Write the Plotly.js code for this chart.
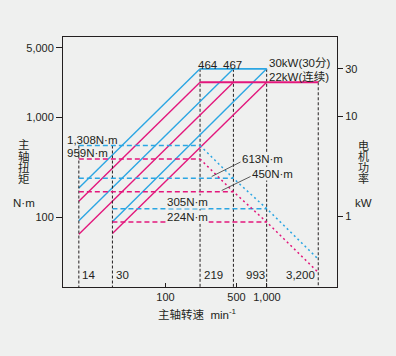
<!DOCTYPE html>
<html>
<head>
<meta charset="utf-8">
<script src="https://cdn.plot.ly/plotly-3.0.1.min.js"></script>
<style>html,body{margin:0;padding:0;background:#eff0ef;}#chart{width:396px;height:356px;}</style>
</head>
<body>
<div id="chart"></div>
<script>
// ---- Data ----
// Power (kW, right axis) vs spindle speed (min^-1) for the three gear ranges
const lowSpeed = [14, 219];
const low30Power = [1.92, 30];
const lowContPower = [1.41, 22];
const midSpeed = [14, 467];
const mid30Power = [0.90, 30];
const midContPower = [0.66, 22];
const highSpeed = [30, 993];
const high30Power = [0.88, 30];
const highContPower = [0.67, 22];
// Constant-power ceilings
const rated30Speed = [219, 993];
const rated30Power = [30, 30];
const ratedContSpeed = [219, 3200];
const ratedContPower = [22, 22];
// Torque plateaus (N·m)
const torqueStart = [14, 14, 30];
const torqueEnd = [219, 467, 993];
const torque30 = [1308, 613, 305];
const torqueCont = [959, 450, 224];
// Torque in constant-power range
const fallSpeed = [219, 467, 993, 3200];
const fall30Torque = [1308, 613, 305, 95];
const fallContTorque = [959, 450, 224, 70];
// Reference speed lines
const vTorqueSpeeds = [14, 30];
const vTorqueTop = [1308, 1308];
const vPowerSpeeds = [219, 467, 993, 3200];
const vPowerTop = [30, 30, 30, 22];
// Tick labels
const xTickVals = [100, 500, 1000];
const xTickText = ['100', '500', '1,000'];
const yTickVals = [100, 1000, 5000];
const yTickText = ['100', '1,000', '5,000'];
const y2TickVals = [1, 10, 30];
const y2TickText = ['1', '10', '30'];

const BLUE = '#2ba6e3';
const PINK = '#e3177c';
const INK = '#231f20';
const BG = '#eff0ef';

const traces = [];
// invisible anchor trace so the left torque axis (main subplot) is drawn
traces.push({x: xTickVals, y: yTickVals, yaxis: 'y', type: 'scatter', mode: 'markers',
  marker: {opacity: 0, size: 1}, hoverinfo: 'skip', showlegend: false});
function line(x, y, axis, color, width, dash) {
  traces.push({x: x, y: y, yaxis: axis, type: 'scatter', mode: 'lines',
    line: {color: color, width: width, dash: dash || 'solid'},
    hoverinfo: 'skip', showlegend: false});
}
// vertical reference lines
vTorqueSpeeds.forEach((s, i) => line([s, s], [vTorqueTop[i], 1], 'y3', INK, 1, '3px,2px'));
vPowerSpeeds.forEach((s, i) => line([s, s], [vPowerTop[i], 0.01], 'y2', INK, 1, '3px,2px'));
// torque dashed lines
torque30.forEach((t, i) => line([torqueStart[i], torqueEnd[i]], [t, t], 'y3', BLUE, 1.5, '5px,3px'));
torqueCont.forEach((t, i) => line([torqueStart[i], torqueEnd[i]], [t, t], 'y3', PINK, 1.5, '5px,3px'));
// constant power torque (dotted)
line(fallSpeed, fall30Torque, 'y3', BLUE, 1.5, '2px,3px');
line(fallSpeed, fallContTorque, 'y3', PINK, 1.5, '2px,3px');
// power lines
line(lowSpeed, low30Power, 'y2', BLUE, 1.4);
line(midSpeed, mid30Power, 'y2', BLUE, 1.4);
line(highSpeed, high30Power, 'y2', BLUE, 1.4);
line(lowSpeed, lowContPower, 'y2', PINK, 1.4);
line(midSpeed, midContPower, 'y2', PINK, 1.4);
line(highSpeed, highContPower, 'y2', PINK, 1.4);
line(rated30Speed, rated30Power, 'y2', BLUE, 1.8);
line(ratedContSpeed, ratedContPower, 'y2', PINK, 1.8);

// paper-coordinate helpers (plot area: x 63..337, y 37..287)
const PX = x => (x - 63) / 274;
const PY = y => (287 - y) / 250;
const FONT = 'Liberation Sans, Arial, sans-serif';
const CJK = 'Liberation Sans, Noto Sans CJK SC, sans-serif';
const anns = [];
function label(text, x, y, anchor, opts) {
  anns.push(Object.assign({text: text, xref: 'paper', yref: 'paper', x: PX(x), y: PY(y),
    xanchor: anchor || 'left', yanchor: 'middle', showarrow: false, borderpad: 0,
    font: {family: CJK, size: 11.5, color: INK}}, opts || {}));
}
label('464', 197, 64.5);
label('467', 232.5, 64.5, 'center');
label('30kW(30分)', 267.5, 62.7);
label('22kW(连续)', 267.5, 76.2);
label('1,308N·m', 66, 140);
label('959N·m', 65.5, 153.3);
label('613N·m', 241, 159, 'left', {bgcolor: BG});
label('450N·m', 251, 173.5, 'left', {bgcolor: BG});
label('305N·m', 165.5, 202.3, 'left', {bgcolor: BG});
label('224N·m', 165.5, 217.3, 'left', {bgcolor: BG});
label('14', 81, 275);
label('30', 114.5, 275);
label('219', 202.5, 275);
label('993', 244.5, 275);
label('3,200', 284.5, 275);
// axis titles
['主', '轴', '扭', '矩'].forEach((c, i) => label(c, 24, 145 + i * 11.3, 'center', {font: {family: CJK, size: 11.5, color: INK}}));
label('N·m', 24, 202.7, 'center');
['电', '机', '功', '率'].forEach((c, i) => label(c, 363.5, 146 + i * 10.8, 'center', {font: {family: CJK, size: 11, color: INK}}));
label('kW', 363.5, 202.7, 'center');
label('主轴转速  min<sup>-1</sup>', 197.5, 314, 'center');

const shapes = [
  {type: 'line', xref: 'paper', yref: 'paper', x0: PX(211.7), y0: PY(176.5), x1: PX(240.5), y1: PY(162), line: {color: '#333', width: 0.8}},
  {type: 'line', xref: 'paper', yref: 'paper', x0: PX(221.7), y0: PY(190.5), x1: PX(250.5), y1: PY(176.5), line: {color: '#333', width: 0.8}}
];

const layout = {
  width: 396, height: 356,
  margin: {l: 63, r: 59, t: 37, b: 69, pad: 0},
  paper_bgcolor: BG, plot_bgcolor: 'rgba(0,0,0,0)',
  font: {family: FONT, size: 11, color: INK},
  showlegend: false,
  xaxis: {type: 'log', range: [0.990, 3.690], tickvals: xTickVals, ticktext: xTickText,
    ticks: 'inside', ticklen: 4, tickcolor: INK, showline: true, linecolor: INK, linewidth: 1,
    mirror: true, showgrid: false, zeroline: false, tickfont: {family: FONT, size: 11, color: INK}},
  yaxis: {type: 'log', range: [1.303, 3.806], tickvals: yTickVals, ticktext: yTickText,
    ticks: 'outside', ticklen: 6, tickcolor: INK, showline: true, linecolor: INK, linewidth: 1,
    showgrid: false, zeroline: false, tickfont: {family: FONT, size: 11, color: INK}},
  yaxis2: {type: 'log', overlaying: 'y', side: 'right', anchor: 'x', range: [-0.709, 1.796],
    tickvals: y2TickVals, ticktext: y2TickText, ticks: 'outside', ticklen: 5, tickcolor: INK,
    showline: true, linecolor: INK, linewidth: 1, showgrid: false, zeroline: false,
    tickfont: {family: FONT, size: 11, color: INK}},
  yaxis3: {type: 'log', overlaying: 'y', side: 'left', anchor: 'x', range: [1.699, 4.204],
    showticklabels: false, ticks: '', showline: false, showgrid: false, zeroline: false},
  annotations: anns,
  shapes: shapes
};
Plotly.newPlot('chart', traces, layout, {staticPlot: true, displayModeBar: false});
</script>
</body>
</html>
